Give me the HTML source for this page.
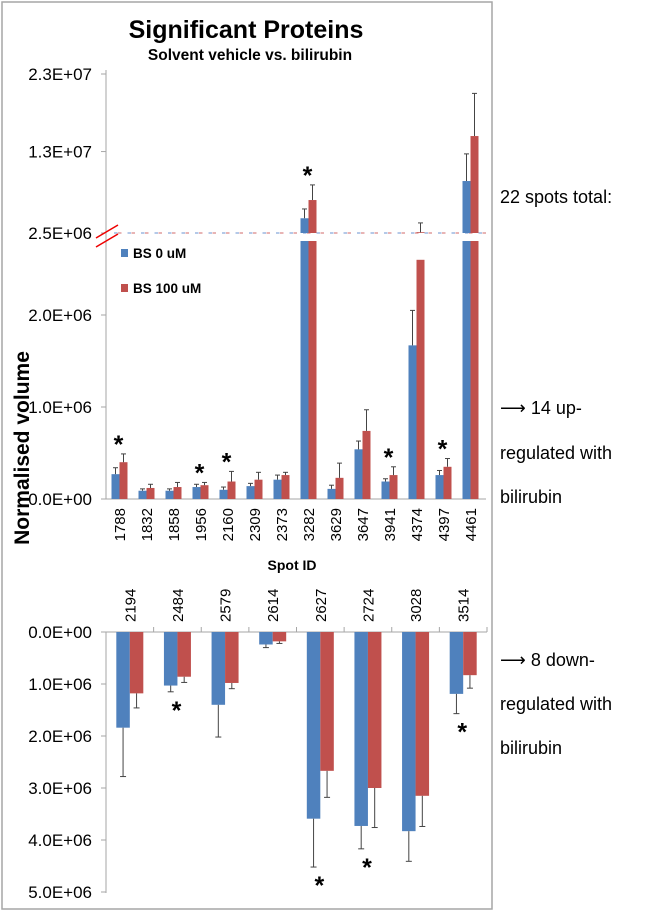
<!DOCTYPE html>
<html><head><meta charset="utf-8"><style>
html,body{margin:0;padding:0;background:#fff;width:666px;height:912px;overflow:hidden}
svg{display:block;font-family:"Liberation Sans",Arial,sans-serif}
</style></head><body>
<svg id="c" width="666" height="912" viewBox="0 0 666 912">
<rect x="2" y="2" width="490" height="907" fill="#fff" stroke="#a6a6a6" stroke-width="1.5"/>
<text x="246" y="38" font-size="25" font-weight="bold" text-anchor="middle">Significant Proteins</text>
<text x="250" y="60" font-size="15.5" font-weight="bold" text-anchor="middle">Solvent vehicle vs. bilirubin</text>
<text transform="translate(29,448) rotate(-90)" font-size="21" font-weight="bold" text-anchor="middle">Normalised volume</text>
<text x="292" y="570" font-size="14" font-weight="bold" text-anchor="middle">Spot ID</text>
<g font-size="18" fill="#000">
<text x="500" y="203">22 spots total:</text>
<text x="500" y="414"><tspan font-family="DejaVu Sans" font-size="18">⟶</tspan> 14 up-</text>
<text x="500" y="459">regulated with</text>
<text x="500" y="503">bilirubin</text>
<text x="500" y="666"><tspan font-family="DejaVu Sans" font-size="18">⟶</tspan> 8 down-</text>
<text x="500" y="710">regulated with</text>
<text x="500" y="754">bilirubin</text>
</g>
<g id="topg"></g><g id="botg"></g>
<line x1="96" y1="238" x2="118" y2="225" stroke="#e00" stroke-width="1.5"/>
<line x1="96" y1="247" x2="118" y2="234" stroke="#e00" stroke-width="1.5"/>
<rect x="121" y="249" width="7" height="8" fill="#4f81bd"/>
<text x="133" y="258" font-size="13.5" font-weight="bold">BS 0 uM</text>
<rect x="121" y="284" width="7" height="8" fill="#c0504d"/>
<text x="133" y="293" font-size="13.5" font-weight="bold">BS 100 uM</text>
</svg>
<script>
const upCats=["1788","1832","1858","1956","2160","2309","2373","3282","3629","3647","3941","4374","4397","4461"];
const upBlue=[0.27e6,0.09e6,0.09e6,0.13e6,0.10e6,0.14e6,0.21e6,4.4e6,0.11e6,0.54e6,0.19e6,1.67e6,0.26e6,9.2e6];
const upBlueErr=[0.07e6,0.02e6,0.02e6,0.03e6,0.03e6,0.03e6,0.05e6,1.2e6,0.04e6,0.09e6,0.03e6,0.38e6,0.05e6,3.5e6];
const upRed=[0.40e6,0.12e6,0.13e6,0.15e6,0.19e6,0.21e6,0.26e6,6.75e6,0.23e6,0.74e6,0.26e6,2.6e6,0.35e6,15e6];
const upRedErr=[0.09e6,0.04e6,0.05e6,0.03e6,0.11e6,0.08e6,0.03e6,1.95e6,0.16e6,0.23e6,0.09e6,1.2e6,0.09e6,5.5e6];
const upStar=[1,0,0,1,1,0,0,1,0,0,1,0,1,0];
const upTicksLow=[0,1e6,2e6];
const upTickLowLabels=["0.0E+00","1.0E+06","2.0E+06"];
const upTicksHigh=[2.5e6,1.3e7,2.3e7];
const upTickHighLabels=["2.5E+06","1.3E+07","2.3E+07"];
const dnCats=["2194","2484","2579","2614","2627","2724","3028","3514"];
const dnBlue=[1.84e6,1.03e6,1.40e6,0.24e6,3.59e6,3.73e6,3.83e6,1.19e6];
const dnBlueErr=[0.94e6,0.12e6,0.62e6,0.06e6,0.93e6,0.44e6,0.58e6,0.38e6];
const dnRed=[1.18e6,0.86e6,0.98e6,0.18e6,2.67e6,3.00e6,3.15e6,0.83e6];
const dnRedErr=[0.28e6,0.11e6,0.11e6,0.04e6,0.51e6,0.76e6,0.59e6,0.25e6];
const dnStar=[0,1,0,0,1,1,0,1];
const dnTicks=[0,1e6,2e6,3e6,4e6,5e6];
const dnTickLabels=["0.0E+00","1.0E+06","2.0E+06","3.0E+06","4.0E+06","5.0E+06"];

const NS="http://www.w3.org/2000/svg";
function mk(p,t,a){const e=document.createElementNS(NS,t);for(const k in a)e.setAttribute(k,a[k]);p.appendChild(e);return e;}
const BLUE="#4f81bd",RED="#c0504d";
const TF=17, CF=15;
const X0=106,X1=484,CW=(X1-X0)/upCats.length;
const yLow=v=>499-v*92e-6;
const yHigh=v=>233-(v-2.5e6)*(159/2.05e7);
const CLIP=241;
const topG=document.getElementById('topg');
mk(topG,'line',{x1:X0,y1:70,x2:X0,y2:499,stroke:'#a6a6a6'});
mk(topG,'line',{x1:X0,y1:499,x2:X1+2,y2:499,stroke:'#a6a6a6'});
upTicksLow.forEach((v,i)=>{const y=yLow(v);mk(topG,'line',{x1:X0-5,y1:y,x2:X0,y2:y,stroke:'#a6a6a6'});
 const t=mk(topG,'text',{x:X0-14,y:y+6,'font-size':TF,'text-anchor':'end'});t.textContent=upTickLowLabels[i];
 
 });
upTicksHigh.forEach((v,i)=>{const y=yHigh(v);mk(topG,'line',{x1:X0-5,y1:y,x2:X0,y2:y,stroke:'#a6a6a6'});
 const t=mk(topG,'text',{x:X0-14,y:y+6,'font-size':TF,'text-anchor':'end'});t.textContent=upTickHighLabels[i];
 
 });
for(let x=X0+8;x<X1;x+=13.5){mk(topG,'line',{x1:x,y1:233,x2:x+3.5,y2:233,stroke:'#9bb7e0','stroke-width':1.5});mk(topG,'line',{x1:x+4,y1:233,x2:x+7.5,y2:233,stroke:'#e09b9b','stroke-width':1.5});}
function topBar(cx,v,e,col,name){
 const w=8;
 const yl=Math.max(yLow(v),CLIP);
 const r=mk(topG,'rect',{x:cx-w/2,y:yl,width:w,height:499-yl,fill:col});
 
 
 const et=yLow(v+e);
 if(et>CLIP){mk(topG,'line',{x1:cx,y1:yl,x2:cx,y2:et,stroke:'#444'});mk(topG,'line',{x1:cx-2.5,y1:et,x2:cx+2.5,y2:et,stroke:'#444'});}
 if(v>2.5e6){const yh=yHigh(v);
  mk(topG,'rect',{x:cx-w/2,y:yh,width:w,height:233-yh,fill:col});
  const eh=yHigh(v+e);mk(topG,'line',{x1:cx,y1:yh,x2:cx,y2:eh,stroke:'#444'});mk(topG,'line',{x1:cx-2.5,y1:eh,x2:cx+2.5,y2:eh,stroke:'#444'});}
 else if(v+e>2.5e6&&v>2.4e6){const eh=yHigh(v+e);mk(topG,'line',{x1:cx,y1:233,x2:cx,y2:eh,stroke:'#444'});mk(topG,'line',{x1:cx-2.5,y1:eh,x2:cx+2.5,y2:eh,stroke:'#444'});}
 return v>2.5e6?yHigh(v+e):yLow(v+e);
}
upCats.forEach((c,i)=>{
 const cx=X0+CW*(i+0.5);
 const tb=topBar(cx-4,upBlue[i],upBlueErr[i],BLUE,'bar-bs0-'+c);
 const tr=topBar(cx+4,upRed[i],upRedErr[i],RED,'bar-bs100-'+c);
 const t=mk(topG,'text',{transform:`translate(${cx+5.5},508) rotate(-90)`,'font-size':CF,'text-anchor':'end'});t.textContent=c;
 
 
 if(upStar[i]){const s=mk(topG,'text',{x:cx-1,y:Math.min(tb,tr)-1,'font-size':25,'font-weight':'bold','text-anchor':'middle'});s.textContent='*';
  
  }
});
const B0=106,B1=487,BW=(B1-B0)/dnCats.length;
const yD=v=>632+v*52e-6;
const botG=document.getElementById('botg');
mk(botG,'line',{x1:B0,y1:632,x2:B0,y2:893,stroke:'#a6a6a6'});
mk(botG,'line',{x1:B0,y1:632,x2:B1,y2:632,stroke:'#a6a6a6'});
dnTicks.forEach((v,i)=>{const y=yD(v);mk(botG,'line',{x1:B0-5,y1:y,x2:B0,y2:y,stroke:'#a6a6a6'});
 const t=mk(botG,'text',{x:B0-14,y:y+6,'font-size':TF,'text-anchor':'end'});t.textContent=dnTickLabels[i];
 
 });
for(let i=1;i<=dnCats.length;i++){const x=B0+BW*i;mk(botG,'line',{x1:x,y1:627,x2:x,y2:632,stroke:'#a6a6a6'});}
dnCats.forEach((c,i)=>{
 const cx=B0+BW*(i+0.5);
 const w=13.5;let maxE=0;
 [[dnBlue[i],dnBlueErr[i],BLUE,cx-w/2,'bar-bs0-'+c],[dnRed[i],dnRedErr[i],RED,cx+w/2,'bar-bs100-'+c]].forEach(([v,e,col,bx,nm])=>{
  const r=mk(botG,'rect',{x:bx-w/2,y:632,width:w,height:yD(v)-632,fill:col});
  
  
  const ey=yD(v+e);maxE=Math.max(maxE,ey);
  mk(botG,'line',{x1:bx,y1:yD(v),x2:bx,y2:ey,stroke:'#444'});mk(botG,'line',{x1:bx-3,y1:ey,x2:bx+3,y2:ey,stroke:'#444'});
 });
 const t=mk(botG,'text',{transform:`translate(${cx+5.5},622) rotate(-90)`,'font-size':CF});t.textContent=c;
 
 
 if(dnStar[i]){const s=mk(botG,'text',{x:cx-1,y:maxE+27,'font-size':25,'font-weight':'bold','text-anchor':'middle'});s.textContent='*';
  
  }
});
</script>
</body></html>
